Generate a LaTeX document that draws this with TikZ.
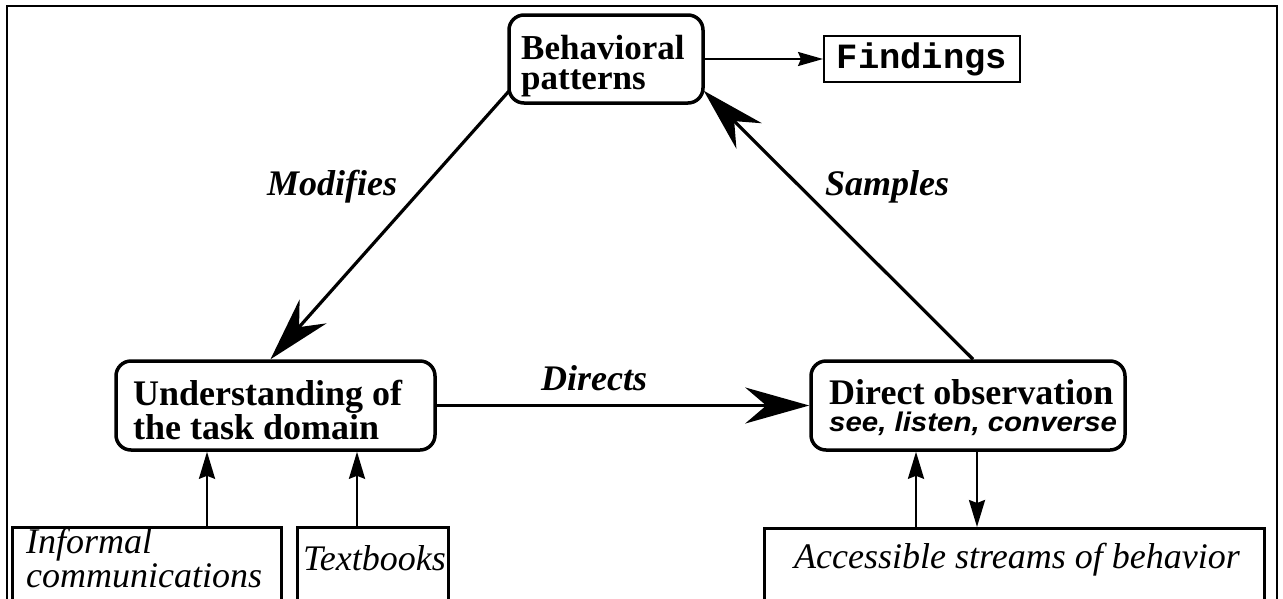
\documentclass[tikz,border=0pt]{standalone}
\usepackage{fontspec}
\setmainfont{Liberation Serif}
\newfontfamily\monofont{Liberation Mono}
\newfontfamily\sansbi[FakeStretch=1.09]{Liberation Sans}
\usetikzlibrary{arrows.meta,calc}
\tikzset{
  rbox/.style={draw, line width=3.5pt, rounded corners=15pt, inner sep=0pt},
  sbox/.style={draw, line width=3pt, inner sep=0pt},
  btext/.style={inner sep=0pt, align=left, font=\fontsize{36}{30}\selectfont\bfseries},
  itext/.style={inner sep=0pt, align=left, font=\fontsize{36}{34}\selectfont\itshape},
  lbl/.style={inner sep=0pt, font=\fontsize{36}{36}\selectfont\bfseries\itshape, anchor=base west},
  bigarr/.style={line width=3.2pt, -{Stealth[length=64pt,width=36pt,inset=21pt]}},
  smallarr/.style={line width=2.6pt, -{Stealth[length=27pt,width=16pt,inset=3pt]}},
  findarr/.style={line width=2pt, -{Stealth[length=25pt,width=14pt,inset=3pt]}},
}
\begin{document}
\begin{tikzpicture}[x=1pt,y=-1pt]
\useasboundingbox (0,0) rectangle (1283,598);
\clip (0,0) rectangle (1283,598);
\fill[white] (0,0) rectangle (1283,598);
\draw[line width=2pt] (7,600) -- (7,6) -- (1277,6) -- (1277,600);

% top
\node[rbox, minimum width=194pt, minimum height=88pt] (bp) at (606,59) {};
\node[btext, anchor=west, font=\fontsize{35}{30}\selectfont\bfseries] (bpt) at (521,66.5) {Behavioral\\patterns};
\node[sbox, line width=2pt, minimum width=196pt, minimum height=46pt, font=\fontsize{35.5}{36}\selectfont\monofont\bfseries] (find) at (922,59) {Findings};

% middle
\node[rbox, minimum width=319pt, minimum height=89pt] (ut) at (275.5,405.5) {};
\node[btext, anchor=west] (utt) at (133,409.8) {Understanding of\\the task domain};
\node[rbox, minimum width=314pt, minimum height=89pt] (do) at (968,405.5) {};
\node[btext, anchor=west, font=\fontsize{36}{27}\selectfont\bfseries] (dot) at (829,407.5) {Direct observation\\{\sansbi\bfseries\itshape\fontsize{27}{27}\selectfont see, listen, converse}};

% bottom
\node[sbox, minimum width=269pt, minimum height=120pt, anchor=north] (inf) at (146.5,526) {};
\node[itext, anchor=west] (inft) at (26,558.5) {Informal\\communications};
\node[sbox, minimum width=151pt, minimum height=120pt, anchor=north] (tb) at (372.5,526) {};
\node[itext, anchor=base west] (tbt) at (303,570) {Textbooks};
\node[sbox, minimum width=500pt, minimum height=120pt, anchor=north] (acc) at (1014,527) {};
\node[itext, anchor=base west] (acct) at (794,568) {Accessible streams of behavior};

% connectors
\draw[findarr] (bp.east) -- (find.west);
\draw[bigarr] ([shift={(2,-14)}]bp.south west) -- ([xshift=-5pt]ut.north);
\draw[bigarr] ([xshift=5pt]do.north) -- ([shift={(-1,-14)}]bp.south east);
\draw[bigarr] (ut.east) -- (do.west);
\draw[smallarr] ([xshift=60.5pt]inf.north) -- ([xshift=60.5pt]inf.north |- ut.south);
\draw[smallarr] ([xshift=-15.5pt]tb.north) -- ([xshift=-15.5pt]tb.north |- ut.south);
\draw[smallarr] ([xshift=-98pt]acc.north) -- ([xshift=-98pt]acc.north |- do.south);
\draw[smallarr] ([xshift=-37pt]acc.north |- do.south) -- ([xshift=-37pt]acc.north);

% labels
\node[lbl] (mod) at (267,195) {Modifies};
\node[lbl] (samp) at (825,195) {Samples};
\node[lbl] (dir) at (541,390) {Directs};
\end{tikzpicture}
\end{document}
